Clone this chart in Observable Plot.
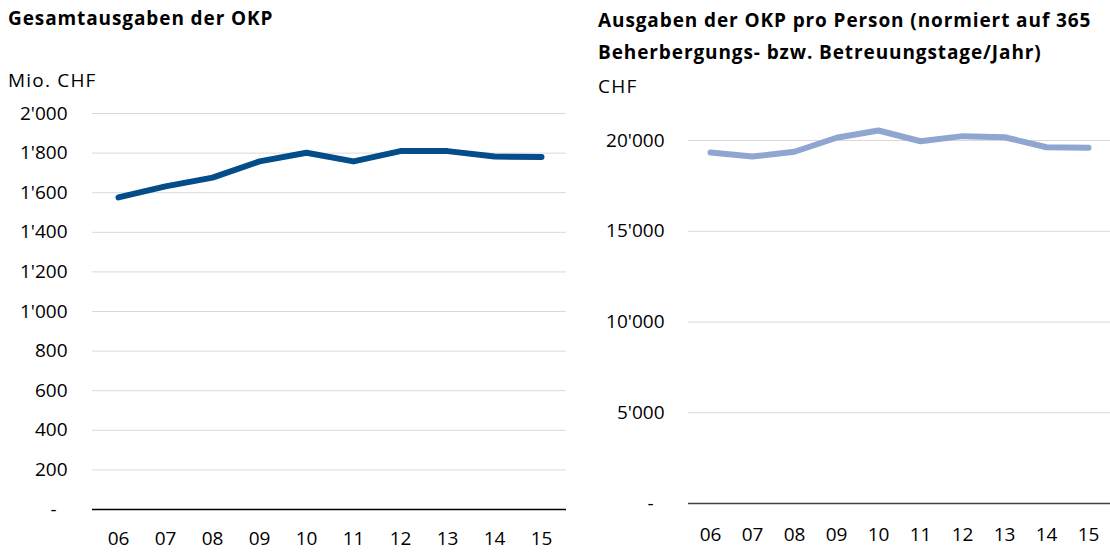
<!DOCTYPE html>
<html><head><meta charset="utf-8">
<script src="https://cdn.jsdelivr.net/npm/d3@7"></script>
<script src="https://cdn.jsdelivr.net/npm/@observablehq/plot@0.6"></script>
<style>
body{margin:0;background:#fff;font-family:"Open Sans",sans-serif;}
#wrap{position:relative;width:1110px;height:556px;overflow:hidden;}
.t{position:absolute;font-weight:700;font-size:19px;letter-spacing:0.9px;color:#000;line-height:32px;white-space:nowrap;}
.u{position:absolute;font-size:19px;letter-spacing:1.2px;color:#000;white-space:nowrap;line-height:24px;}
#left,#right{position:absolute;top:0;}
</style></head>
<body><div id="wrap">
<div class="t" style="left:8px;top:2px;">Gesamtausgaben der OKP</div>
<div class="u" style="left:8px;top:68px;">Mio. CHF</div>
<div class="t" style="left:598px;top:4px;">Ausgaben der OKP pro Person (normiert auf 365<br>Beherbergungs- bzw. Betreuungstage/Jahr)</div>
<div class="u" style="left:598px;top:74px;">CHF</div>
<div id="left"></div><div id="right"></div>
</div>
<script>
const years = ["06","07","08","09","10","11","12","13","14","15"];
const totalCost = [1576, 1632, 1676, 1758, 1802, 1758, 1810, 1810, 1783, 1780];
const costPerPerson = [19340, 19120, 19380, 20150, 20550, 19960, 20240, 20180, 19630, 19600];
const leftTicks = [0, 200, 400, 600, 800, 1000, 1200, 1400, 1600, 1800, 2000];
const rightTicks = [0, 5000, 10000, 15000, 20000];

const loc = d3.formatLocale({decimal: ".", thousands: "'", grouping: [3], currency: ["", ""]});
const fmt = v => v === 0 ? "-\u2007" : loc.format(",")(v);

const leftData = years.map((y, i) => ({year: y, value: totalCost[i]}));
const rightData = years.map((y, i) => ({year: y, value: costPerPerson[i]}));

const common = {
  height: 556,
  style: {fontFamily: "Open Sans", fontSize: "19px", color: "#000", background: "transparent", overflow: "visible"},
};

const left = Plot.plot({
  ...common,
  width: 575,
  marginLeft: 92, marginRight: 9, marginTop: 113, marginBottom: 47,
  x: {type: "point", domain: years, padding: 0.5},
  y: {domain: [0, 2000]},
  marks: [
    Plot.gridY(leftTicks, {stroke: "#d9d9d9", strokeOpacity: 1, strokeWidth: 1}),
    Plot.ruleY([0], {stroke: "#000", strokeWidth: 1.5}),
    Plot.axisY({ticks: leftTicks, tickSize: 0, tickPadding: 25, tickFormat: fmt, fontSize: 19, label: null}),
    Plot.axisX({tickSize: 0, tickPadding: 22, fontSize: 19, label: null}),
    Plot.line(leftData, {x: "year", y: "value", stroke: "#034d8b", strokeWidth: 6, strokeLinecap: "round", strokeLinejoin: "round"})
  ]
});
document.getElementById("left").appendChild(left);

const right = Plot.plot({
  ...common,
  width: 530,
  marginLeft: 108, marginRight: 0, marginTop: 140, marginBottom: 53,
  x: {type: "point", domain: years, padding: 0.5},
  y: {domain: [0, 20000]},
  marks: [
    Plot.gridY(rightTicks, {stroke: "#d9d9d9", strokeOpacity: 1, strokeWidth: 1}),
    Plot.ruleY([0], {stroke: "#404040", strokeWidth: 1.5}),
    Plot.axisY({ticks: rightTicks, tickSize: 0, tickPadding: 24, tickFormat: fmt, fontSize: 19, label: null}),
    Plot.axisX({tickSize: 0, tickPadding: 24, fontSize: 19, label: null}),
    Plot.line(rightData, {x: "year", y: "value", stroke: "#8ea6d0", strokeWidth: 6, strokeLinecap: "round", strokeLinejoin: "round"})
  ]
});
const rd = document.getElementById("right");
rd.style.left = "580px";
rd.appendChild(right);
document.getElementById("left").style.left = "0px";
</script>
</body></html>
